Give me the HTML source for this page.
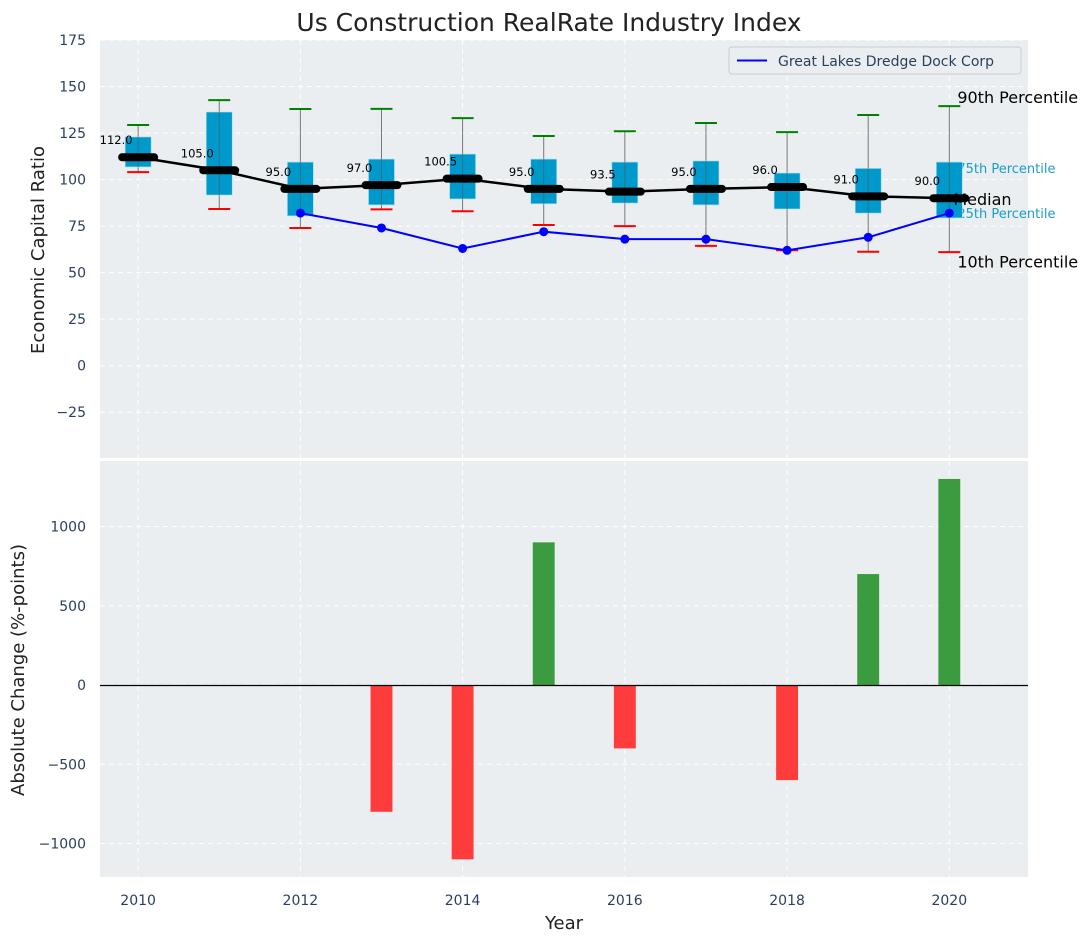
<!DOCTYPE html>
<html><head><meta charset="utf-8"><style>
body{margin:0;background:#fff;}
svg{display:block;font-family:"DejaVu Sans","Liberation Sans",sans-serif;}
</style></head><body>
<svg id="chart" width="1092" height="942"></svg>
<script>
const years=[2010,2011,2012,2013,2014,2015,2016,2017,2018,2019,2020];
const q1=[106.8,91.7,80.5,86.4,89.6,87,87.4,86.4,84.2,82,79.4];
const q3=[122.9,136.3,109.4,111,113.7,111,109.4,110,103.5,106,109.4];
const p10=[104,84.2,74,84,83,75.6,75,64.4,62,61.2,61];
const p90=[129.3,142.7,137.9,138,133,123.4,126,130.4,125.5,134.7,139.5];
const medians=[112,105,95,97,100.5,95,93.5,95,96,91,90];
const company=[null,null,82,74,63,72,68,68,62,69,82];
const changes=[0,0,0,-800,-1100,900,-400,0,-600,700,1300];
const yTicksTop=[-25,0,25,50,75,100,125,150,175];
const yTicksBot=[-1000,-500,0,500,1000];
const xTicks=[2010,2012,2014,2016,2018,2020];

const NS="http://www.w3.org/2000/svg";
const svg=document.getElementById('chart');
function el(t,a,p){const e=document.createElementNS(NS,t);for(const k in a)e.setAttribute(k,a[k]);(p||svg).appendChild(e);return e;}
const L=100,R=1028;
const X=v=>L+(v-2009.53)/(2020.97-2009.53)*(R-L);
const T1=40,B1=458,Y1=v=>T1+(175-v)/(175-(-49.6))*(B1-T1);
const T2=461,B2=877,Y2=v=>685-v*0.1585;

let e=el('rect',{x:L,y:T1,width:R-L,height:B1-T1,fill:'#eaeef0'});

e=el('rect',{x:L,y:T2,width:R-L,height:B2-T2,fill:'#eaeef0'});

const grid={stroke:'#fff','stroke-dasharray':'5,4','stroke-width':1};
xTicks.forEach(t=>{
  el('line',Object.assign({x1:X(t),x2:X(t),y1:T1,y2:B1},grid));
  el('line',Object.assign({x1:X(t),x2:X(t),y1:T2,y2:B2},grid));
  const tx=el('text',{x:X(t),y:905,'font-size':14,fill:'#2a3f5f','text-anchor':'middle'});tx.textContent=t;
  
});
yTicksTop.forEach(t=>{
  el('line',Object.assign({x1:L,x2:R,y1:Y1(t),y2:Y1(t)},grid));
  const tx=el('text',{x:86,y:Y1(t)+5,'font-size':14,fill:'#2a3f5f','text-anchor':'end'});tx.textContent=t<0?'\u2212'+(-t):t;
  
});
yTicksBot.forEach(t=>{
  el('line',Object.assign({x1:L,x2:R,y1:Y2(t),y2:Y2(t)},grid));
  const tx=el('text',{x:86,y:Y2(t)+5,'font-size':14,fill:'#2a3f5f','text-anchor':'end'});tx.textContent=t<0?'\u2212'+(-t):t;
  
});

const last=years.length-1,ax=X(years[last])+8;
function ann(txt,y,size,col,name){const t=el('text',{x:ax,y:y,'font-size':size,fill:col});t.textContent=txt;
  return t;}
ann('90th Percentile',Y1(p90[last]+5)+6,16,'#000','annotation-p90');
ann('75th Percentile',Y1(q3[last])+11,13,'#1a9ccc','annotation-q3');
ann('25th Percentile',Y1(q1[last])+0,13,'#1a9ccc','annotation-q1');
ann('10th Percentile',Y1(p10[last]-5)+6,16,'#000','annotation-p10');

const bw=(X(1)-X(0))*0.32;
years.forEach((y,i)=>{
  const cx=X(y);
  let w=el('line',{x1:cx,x2:cx,y1:Y1(p90[i]),y2:Y1(p10[i]),stroke:'#777','stroke-width':1});
  
  let b=el('rect',{x:cx-bw/2,y:Y1(q3[i]),width:bw,height:Y1(q1[i])-Y1(q3[i]),fill:'#0099cc',stroke:'#a8dff0','stroke-width':0.6});
  
  el('line',{x1:cx,x2:cx,y1:Y1(q3[i]),y2:Y1(q1[i]),stroke:'#555','stroke-width':1,opacity:0.6});
  let c=el('line',{x1:cx-11,x2:cx+11,y1:Y1(p90[i]),y2:Y1(p90[i]),stroke:'green','stroke-width':2});
  
  c=el('line',{x1:cx-11,x2:cx+11,y1:Y1(p10[i]),y2:Y1(p10[i]),stroke:'red','stroke-width':2});
  
});
let pts=years.map((y,i)=>X(y)+','+Y1(medians[i])).join(' ');
e=el('polyline',{points:pts,fill:'none',stroke:'#000','stroke-width':2.5});

years.forEach((y,i)=>{
  const m=el('line',{x1:X(y)-16,x2:X(y)+16,y1:Y1(medians[i]),y2:Y1(medians[i]),stroke:'#000','stroke-width':8,'stroke-linecap':'round'});
  
  const t=el('text',{x:X(y)-22,y:Y1(medians[i])-13,'font-size':11.5,fill:'#000','text-anchor':'middle'});
  t.textContent=medians[i].toFixed(1);
  
});
const med=ann('Median',Y1(medians[last])+7,16,'#000','annotation-median');
med.setAttribute('x',ax-4);
const cp=years.map((y,i)=>company[i]==null?null:[X(y),Y1(company[i])]).filter(p=>p);
e=el('polyline',{points:cp.map(p=>p.join(',')).join(' '),fill:'none',stroke:'#0000ff','stroke-width':2});

cp.forEach(p=>{const d=el('circle',{cx:p[0],cy:p[1],r:4.5,fill:'#0000ff'});
  });

const barW=(X(1)-X(0))*0.27;
years.forEach((y,i)=>{
  if(!changes[i])return;
  const v=changes[i];
  const r=el('rect',{x:X(y)-barW/2,y:Math.min(Y2(0),Y2(v)),width:barW,height:Math.abs(Y2(v)-Y2(0)),fill:v>0?'#3a9c3e':'#ff3c3c'});
  
});
e=el('line',{x1:L,x2:R,y1:Math.round(Y2(0))+0.5,y2:Math.round(Y2(0))+0.5,stroke:'#000','stroke-width':1.2});


const lg=el('g',{});
el('rect',{x:729,y:47,width:292,height:27,fill:'#eaeef0',stroke:'#ccc',rx:3},lg);
el('line',{x1:737,x2:767,y1:60.5,y2:60.5,stroke:'#0000ff','stroke-width':2},lg);
let lt=el('text',{x:778,y:66,'font-size':14,fill:'#2a3f5f'},lg);lt.textContent='Great Lakes Dredge Dock Corp';

function txt(s,a,name){const t=el('text',a);t.textContent=s;return t;}
txt('Us Construction RealRate Industry Index',{x:549,y:31,'font-size':25,fill:'#222','text-anchor':'middle'},'chart-title');
txt('Year',{x:564,y:929,'font-size':18,fill:'#222','text-anchor':'middle'},'x-axis-title');
txt('Economic Capital Ratio',{x:0,y:0,'font-size':18,fill:'#222','text-anchor':'middle',transform:'translate(44,250) rotate(-90)'},'y-axis-title-top');
txt('Absolute Change (%-points)',{x:0,y:0,'font-size':18,fill:'#222','text-anchor':'middle',transform:'translate(24,670) rotate(-90)'},'y-axis-title-bottom');
</script>
</body></html>
